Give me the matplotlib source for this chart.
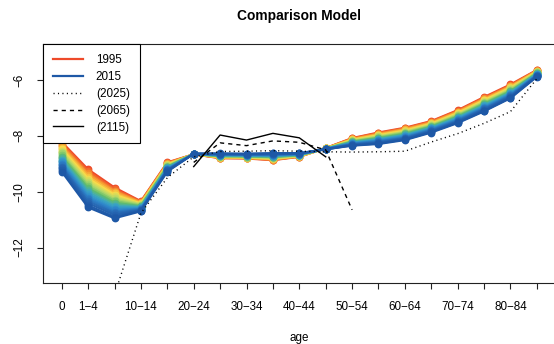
import numpy as np
import matplotlib; matplotlib.use("Agg")
import matplotlib.pyplot as plt
from matplotlib.colors import LinearSegmentedColormap

plt.rcParams["font.family"] = ["Liberation Sans", "DejaVu Sans"]

ages = ["0", "1−4", "5−9", "10−14", "15−19", "20−24", "25−29", "30−34", "35−39",
        "40−44", "45−49", "50−54", "55−59", "60−64", "65−69", "70−74", "75−79",
        "80−84", "85+"]
shown = ["0", "1−4", "10−14", "20−24", "30−34", "40−44", "50−54", "60−64", "70−74", "80−84"]
years = list(range(1995, 2016))

# log death rates, one row per age group, one column per year 1995..2015
logm = [
    [-8.22, -8.27, -8.33, -8.37, -8.42, -8.47, -8.53, -8.58, -8.63, -8.69, -8.74, -8.79, -8.85, -8.90, -8.95, -9.00, -9.06, -9.11, -9.16, -9.23, -9.28],  # 0
    [-9.20, -9.27, -9.34, -9.39, -9.46, -9.53, -9.59, -9.66, -9.73, -9.80, -9.87, -9.93, -10.00, -10.07, -10.14, -10.21, -10.27, -10.34, -10.41, -10.49, -10.56],  # 1-4
    [-9.85, -9.91, -9.96, -10.00, -10.06, -10.11, -10.17, -10.22, -10.28, -10.33, -10.39, -10.44, -10.50, -10.55, -10.61, -10.66, -10.72, -10.77, -10.83, -10.90, -10.95],  # 5-9
    [-10.34, -10.36, -10.38, -10.39, -10.41, -10.43, -10.44, -10.46, -10.48, -10.50, -10.52, -10.53, -10.55, -10.57, -10.59, -10.61, -10.62, -10.64, -10.66, -10.68, -10.70],  # 10-14
    [-8.95, -8.97, -8.98, -9.00, -9.01, -9.03, -9.05, -9.06, -9.08, -9.10, -9.11, -9.13, -9.15, -9.16, -9.18, -9.19, -9.21, -9.23, -9.24, -9.26, -9.28],  # 15-19
    [-8.66, -8.66, -8.66, -8.66, -8.66, -8.66, -8.65, -8.65, -8.65, -8.65, -8.65, -8.65, -8.65, -8.65, -8.65, -8.65, -8.65, -8.64, -8.64, -8.64, -8.64],  # 20-24
    [-8.80, -8.79, -8.78, -8.78, -8.77, -8.76, -8.75, -8.74, -8.73, -8.73, -8.72, -8.71, -8.70, -8.69, -8.68, -8.67, -8.67, -8.66, -8.65, -8.64, -8.63],  # 25-29
    [-8.81, -8.80, -8.79, -8.79, -8.78, -8.77, -8.76, -8.75, -8.74, -8.74, -8.73, -8.72, -8.71, -8.70, -8.69, -8.68, -8.68, -8.67, -8.66, -8.65, -8.64],  # 30-34
    [-8.87, -8.86, -8.85, -8.84, -8.82, -8.81, -8.80, -8.79, -8.77, -8.76, -8.75, -8.74, -8.72, -8.71, -8.70, -8.69, -8.67, -8.66, -8.65, -8.63, -8.62],  # 35-39
    [-8.75, -8.74, -8.74, -8.73, -8.73, -8.72, -8.71, -8.71, -8.70, -8.69, -8.69, -8.68, -8.67, -8.67, -8.66, -8.65, -8.65, -8.64, -8.63, -8.63, -8.62],  # 40-44
    [-8.44, -8.44, -8.44, -8.45, -8.45, -8.45, -8.45, -8.45, -8.46, -8.46, -8.46, -8.46, -8.46, -8.47, -8.47, -8.47, -8.47, -8.47, -8.48, -8.48, -8.48],  # 45-49
    [-8.08, -8.09, -8.11, -8.12, -8.13, -8.15, -8.16, -8.17, -8.19, -8.20, -8.21, -8.23, -8.24, -8.25, -8.27, -8.28, -8.29, -8.31, -8.32, -8.34, -8.35],  # 50-54
    [-7.88, -7.90, -7.92, -7.94, -7.96, -7.98, -8.00, -8.02, -8.04, -8.06, -8.08, -8.10, -8.12, -8.14, -8.16, -8.18, -8.20, -8.22, -8.25, -8.27, -8.29],  # 55-59
    [-7.71, -7.73, -7.75, -7.77, -7.79, -7.82, -7.84, -7.86, -7.88, -7.90, -7.93, -7.95, -7.97, -7.99, -8.01, -8.04, -8.06, -8.08, -8.10, -8.13, -8.15],  # 60-64
    [-7.47, -7.49, -7.51, -7.53, -7.55, -7.57, -7.59, -7.61, -7.63, -7.65, -7.67, -7.69, -7.71, -7.73, -7.75, -7.77, -7.79, -7.81, -7.84, -7.86, -7.88],  # 65-69
    [-7.08, -7.10, -7.13, -7.14, -7.17, -7.19, -7.21, -7.24, -7.26, -7.28, -7.31, -7.33, -7.35, -7.37, -7.40, -7.42, -7.44, -7.47, -7.49, -7.52, -7.54],  # 70-74
    [-6.61, -6.64, -6.66, -6.68, -6.71, -6.73, -6.76, -6.78, -6.81, -6.83, -6.86, -6.89, -6.91, -6.94, -6.96, -6.99, -7.01, -7.04, -7.06, -7.10, -7.12],  # 75-79
    [-6.16, -6.19, -6.21, -6.23, -6.25, -6.28, -6.30, -6.33, -6.35, -6.38, -6.40, -6.43, -6.45, -6.47, -6.50, -6.52, -6.55, -6.57, -6.60, -6.63, -6.65],  # 80-84
    [-5.64, -5.65, -5.66, -5.67, -5.69, -5.70, -5.71, -5.72, -5.73, -5.75, -5.76, -5.77, -5.78, -5.79, -5.81, -5.82, -5.83, -5.84, -5.85, -5.87, -5.88],  # 85+
]

nan = np.nan
proj_2025 = [nan, nan, -13.70, -10.77, -9.50, -8.75, -8.56, -8.55, -8.53, -8.55, -8.57,
             -8.58, -8.57, -8.55, -8.22, -7.92, -7.55, -7.13, -5.95]
proj_2065 = [nan, nan, nan, nan, nan, -8.95, -8.25, -8.35, -8.18, -8.23, -8.50,
             -10.65, nan, nan, nan, nan, nan, nan, nan]
proj_2115 = [nan, nan, nan, nan, nan, -9.10, -7.97, -8.15, -7.91, -8.07, -8.75,
             nan, nan, nan, nan, nan, nan, nan, nan]

ramp = LinearSegmentedColormap.from_list("yr", [
    "#EE4A2A", "#F7962F", "#F9DC4A", "#B4DA6A", "#62BC6C",
    "#3AA7C4", "#2E86CB", "#2766B2", "#1E58A6"])

M = np.array(logm)
x = np.arange(len(ages))

fig = plt.figure(figsize=(5.54, 3.44), dpi=100)
ax = fig.add_axes([42.7 / 554, 1 - 283.3 / 344, (555.9 - 42.7) / 554, (283.3 - 44) / 344])

n = len(years)
for k in range(n):
    c = ramp(k / (n - 1))
    ax.plot(x, M[:, k], color=c, lw=1.6, marker="o", ms=4.6, mec=c, mfc=c, zorder=2)

ax.plot(x, proj_2025, color="black", lw=1, ls=(0, (0.8, 2.4)), zorder=3)
ax.plot(x, proj_2065, color="black", lw=1, ls=(0, (3, 2.9)), zorder=3)
ax.plot(x, proj_2115, color="black", lw=1, ls="-", zorder=3)

ax.set_xlim(-0.72, 18.72)
ax.set_ylim(-13.28, -4.71)
ax.set_xticks(x)
ax.set_xticklabels([a if a in shown else "" for a in ages], fontsize=8.4)
ax.set_yticks([-12, -10, -8, -6])
ax.set_yticklabels(["−12", "−10", "−8", "−6"], fontsize=8.4, rotation=90, va="center")
ax.tick_params(axis="both", length=4.4, width=0.8, color="#222222", pad=8)
for sp in ax.spines.values():
    sp.set_linewidth(0.8)
    sp.set_color("#222222")

ax.set_xlabel("age", fontsize=8.4, labelpad=14)
ax.set_title("Comparison Model", fontsize=9.9, fontweight="bold", pad=17)

handles = [
    plt.Line2D([], [], color=ramp(0.0), lw=1.6),
    plt.Line2D([], [], color=ramp(1.0), lw=1.6),
    plt.Line2D([], [], color="black", lw=1, ls=(0, (0.8, 2.4))),
    plt.Line2D([], [], color="black", lw=1, ls=(0, (3, 2.9))),
    plt.Line2D([], [], color="black", lw=1),
]
leg = ax.legend(handles, ["1995", "2015", "(2025)", "(2065)", "(2115)"],
                loc="upper left", borderaxespad=0, fontsize=8.4, fancybox=False,
                handlelength=2.6, handletextpad=1.1, labelspacing=0.42,
                borderpad=0.85, framealpha=1)
leg.get_frame().set_edgecolor("black")
leg.get_frame().set_linewidth(0.8)

fig.savefig("out.png", dpi=100)
